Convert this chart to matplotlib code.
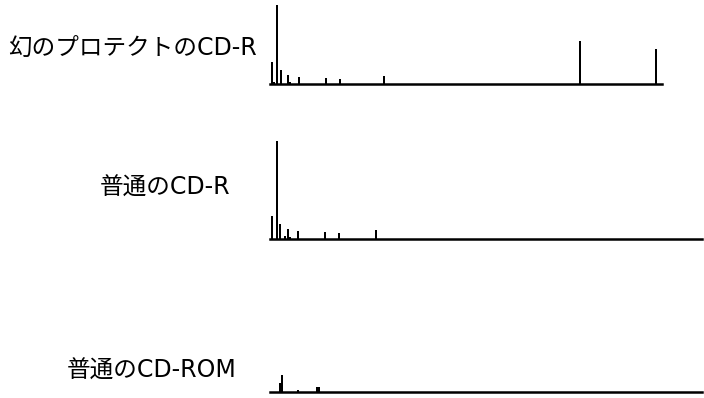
import matplotlib
matplotlib.use("Agg")
import matplotlib.pyplot as plt

plt.rcParams['font.family'] = ['DejaVu Sans', 'Noto Sans CJK JP']

W, H = 704, 398

labels = ["幻のプロテクトのCD-R", "普通のCD-R", "普通のCD-ROM"]

# positions along the axis (arbitrary units) and bar heights
top_x = [2, 4.3, 7.3, 10.7, 17.7, 20, 29, 56, 70, 114, 310, 386]
top_h = [22, 2.5, 79, 14, 9, 2, 7, 6, 5, 8, 43, 35]
top_w = [2, 2, 2, 2, 2, 2, 2, 2, 2, 2, 2, 2]

mid_x = [1.7, 6.7, 10, 15, 17.7, 20, 27.7, 55, 69, 106]
mid_h = [22.5, 97.5, 14.5, 2.5, 9.5, 1.5, 7.5, 6.5, 5.5, 8.5]
mid_w = [2, 2, 2, 2, 2, 2, 2, 2, 2, 2]

bot_x = [10, 12, 27.7, 48]
bot_h = [9, 17, 2, 5.3]
bot_w = [2, 2, 2, 4]

fig = plt.figure(figsize=(W / 100, H / 100), dpi=100)

def add_panel(left, right, base_y, height, xmax, xs, hs, ws):
    ax = fig.add_axes([left / W, (H - base_y) / H, (right - left) / W, height / H])
    ax.bar(xs, hs, width=ws, color='black', align='center')
    ax.set_xlim(0, xmax)
    ax.set_ylim(0, height)
    for s in ['top', 'left', 'right']:
        ax.spines[s].set_visible(False)
    ax.spines['bottom'].set_linewidth(1.8)
    ax.set_xticks([])
    ax.set_yticks([])
    ax.patch.set_alpha(0)
    return ax

add_panel(270, 662, 84, 82, 392, top_x, top_h, top_w)
add_panel(270, 702, 238.5, 100, 432, mid_x, mid_h, mid_w)
add_panel(270, 702, 392, 20, 432, bot_x, bot_h, bot_w)

fs = 17
fig.text(8 / W, 1 - 48 / H, labels[0], fontsize=fs, ha='left', va='center')
fig.text(100 / W, 1 - 188 / H, labels[1], fontsize=fs, ha='left', va='center')
fig.text(67 / W, 1 - 371 / H, labels[2], fontsize=fs, ha='left', va='center')

fig.savefig("out.png", dpi=100)
